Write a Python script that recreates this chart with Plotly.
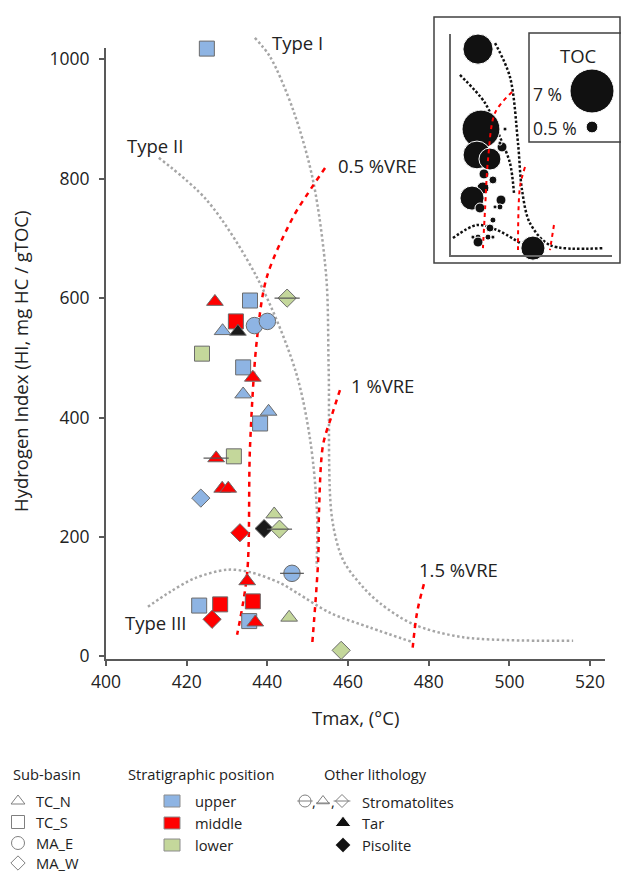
import numpy as np
import plotly.graph_objects as go

W, H = 621, 872
FONT = "Open Sans"
TXT = "#222222"

# ---------------- main data ----------------
tmax = [425.0, 427.0, 435.7, 444.9, 432.2, 428.9, 432.7, 436.8, 440.0, 423.8,
        434.0, 436.4, 434.0, 440.3, 438.2, 427.3, 431.7, 428.8, 430.3, 423.5,
        441.7, 433.2, 439.2, 443.0, 446.1, 435.0, 423.1, 428.3, 436.4, 426.3,
        435.5, 437.0, 445.4, 458.3]
hi = [1018, 594, 596, 600, 561, 545, 544, 554, 561, 507,
      484, 467, 439, 410, 390, 332, 335, 281, 281, 265,
      238, 207, 214, 213, 139, 126, 85, 87, 92, 62,
      59, 57, 65, 10]
sub_basin = ["TC_S", "TC_N", "TC_S", "MA_W", "TC_S", "TC_N", "TC_N", "MA_E", "MA_E", "TC_S",
             "TC_S", "TC_N", "TC_N", "TC_N", "TC_S", "TC_N", "TC_S", "TC_N", "TC_N", "MA_W",
             "TC_N", "MA_W", "MA_W", "MA_W", "MA_E", "TC_N", "TC_S", "TC_S", "TC_S", "MA_W",
             "TC_S", "TC_N", "TC_N", "MA_W"]
position = ["upper", "middle", "upper", "lower", "middle", "upper", "-", "upper", "upper", "lower",
            "upper", "middle", "upper", "upper", "upper", "middle", "lower", "middle", "middle", "upper",
            "lower", "middle", "-", "lower", "upper", "middle", "upper", "middle", "middle", "middle",
            "upper", "middle", "lower", "lower"]
lithology = ["", "", "", "Stromatolites", "", "", "Tar", "", "", "",
             "", "", "", "", "", "Stromatolites", "", "", "", "",
             "", "", "Pisolite", "Stromatolites", "Stromatolites", "", "", "", "", "",
             "", "", "", ""]

# reference curves (Tmax, HI)
type1_t = [436.9, 440.7, 446.4, 451.3, 454.6, 455.2, 456.0, 458.8, 463.7, 467.9, 476.1, 488.5, 515.8]
type1_h = [1036, 1004, 915, 798, 636, 480, 233, 161, 116, 89, 54, 32, 26]
type2_t = [413.1, 425.0, 437.4, 446.9, 450.6, 452.3, 452.2]
type2_h = [835, 764, 635, 480, 363, 242, 150]
type3_t = [410.4, 415.9, 422.1, 430.0, 435.7, 443.1, 447.4, 455.5, 465.5, 475.9]
type3_h = [83, 108, 131, 145, 141, 123, 106, 73, 48, 24]
vre05_t = [454.3, 450.1, 446.4, 439.9, 437.4, 435.7, 435.0, 432.5]
vre05_h = [818, 776, 736, 636, 530, 351, 140, 36]
vre10_t = [458.0, 456.0, 453.8, 452.8, 452.6, 451.1]
vre10_h = [446, 404, 354, 242, 162, 19]
vre15_t = [478.8, 477.1, 475.9]
vre15_h = [121, 73, 6]

# ---------------- inset data (TOC bubbles) ----------------
in_tmax = [420.8, 423.1, 420.0, 430.0, 439.3, 441.6, 437.7, 425.4, 432.3, 424.6,
           416.2, 422.3, 438.5, 437.7, 433.9, 432.3, 430.0, 420.8, 420.8, 428.5,
           416.9, 432.3, 463.1]
in_hi = [955, 584, 464, 445, 501, 584, 519, 376, 348, 311,
         264, 218, 255, 223, 223, 162, 125, 83, 60, 83,
         83, 83, 32]
in_toc = [3.3, 5.2, 2.8, 1.75, 0.36, 0.06, 0.06, 0.36, 0.23, 0.52,
          2.1, 0.36, 0.36, 0.13, 0.06, 0.13, 0.23, 0.13, 0.36, 0.13,
          0.06, 0.06, 2.1]
toc_legend = [7, 0.5]
toc_legend_labels = ["7 %", "0.5 %"]

in1_t = [433.9, 445.4, 451.6, 454.7, 460.8, 476.2, 517.0]
in1_h = [983, 826, 519, 301, 148, 46, 32]
in2_t = [406.9, 426.2, 437.7, 445.4, 448.5]
in2_h = [835, 705, 547, 427, 288]
in3_t = [401.5, 420.0, 435.4, 453.1]
in3_h = [79, 139, 116, 56]
inr1_t = [447.0, 433.9, 428.5, 426.2, 424.6]
inr1_h = [756, 659, 441, 209, 32]
inr2_t = [457.0, 453.1, 451.6]
inr2_h = [408, 315, 23]
inr3_t = [479.3, 476.2]
inr3_h = [139, 23]

x_ticks = [400, 420, 440, 460, 480, 500, 520]
y_ticks = [0, 200, 400, 600, 800, 1000]

# ---------------- styles ----------------
pos_color = {"upper": "#8EB4E3", "middle": "#FF0000", "lower": "#C4D79B"}
lith_color = {"Tar": "#1A1A1A", "Pisolite": "#1A1A1A"}
basin_symbol = {"TC_N": "triangle-up", "TC_S": "square", "MA_E": "circle", "MA_W": "diamond"}
sym_size = {"triangle-up": 14.5, "square": 15, "circle": 16.5, "diamond": 14}
line_size = {"triangle-up": 18, "square": 17, "circle": 17, "diamond": 18}


def toc_diam(v):
    return 16.63 * np.sqrt(np.asarray(v, dtype=float))


def px(x):
    return x / W


def py(y):
    return 1 - y / H


symbols, colors, sizes = [], [], []
for sb, pos, lit in zip(sub_basin, position, lithology):
    s = basin_symbol[sb]
    if lit == "Pisolite":
        s = "diamond"
    symbols.append(s)
    colors.append(lith_color.get(lit, pos_color.get(pos, "#1A1A1A")))
    sizes.append(sym_size[s])

fig = go.Figure()

# placeholder so the visible main axes get drawn
fig.add_trace(go.Scatter(x=[None], y=[None], xaxis="x", yaxis="y", mode="markers",
                         hoverinfo="skip", showlegend=False))

GRAY = "#A6A6A6"
RED = "#FF0000"
MX, MY = "x4", "y4"   # invisible twin of the main axes (same scale, taller domain)


def curve(t, h, color, dash, width, xa=MX, ya=MY):
    fig.add_trace(go.Scatter(x=t, y=h, mode="lines", xaxis=xa, yaxis=ya,
                             line=dict(color=color, dash=dash, width=width, shape="spline",
                                       smoothing=0.9),
                             hoverinfo="skip", showlegend=False))


for t, h in [(type1_t, type1_h), (type2_t, type2_h), (type3_t, type3_h)]:
    curve(t, h, GRAY, "2.5px,2.5px", 2.5)
for t, h in [(vre05_t, vre05_h), (vre10_t, vre10_h), (vre15_t, vre15_h)]:
    curve(t, h, RED, "5px,5px", 2.5)

fig.add_trace(go.Scatter(
    x=tmax, y=hi, mode="markers", cliponaxis=False, showlegend=False, xaxis=MX, yaxis=MY,
    marker=dict(symbol=symbols, color=colors, size=sizes, opacity=1,
                line=dict(color="#6B6B6B", width=1))))

# stromatolite bar overlay
st_x = [t for t, l in zip(tmax, lithology) if l == "Stromatolites"]
st_y = [h for h, l in zip(hi, lithology) if l == "Stromatolites"]
st_s = [line_size[s] for s, l in zip(symbols, lithology) if l == "Stromatolites"]
fig.add_trace(go.Scatter(x=st_x, y=st_y, mode="markers", cliponaxis=False, showlegend=False,
                         xaxis=MX, yaxis=MY,
                         marker=dict(symbol="line-ew", size=st_s, opacity=1,
                                     line=dict(color="#555555", width=1.2))))

# ---------------- inset ----------------
for t, h in [(in1_t, in1_h), (in2_t, in2_h), (in3_t, in3_h)]:
    curve(t, h, "#111111", "2.5px,2px", 2.5, "x2", "y2")
fig.add_trace(go.Scatter(x=in_tmax, y=in_hi, mode="markers", xaxis="x2", yaxis="y2",
                         cliponaxis=False, showlegend=False,
                         marker=dict(size=toc_diam(in_toc), color="#111111", opacity=1,
                                     line=dict(color="white", width=1))))
for t, h in [(inr1_t, inr1_h), (inr2_t, inr2_h), (inr3_t, inr3_h)]:
    curve(t, h, RED, "4px,4px", 2, "x2", "y2")

# TOC legend circles (pixel overlay axis)
fig.add_trace(go.Scatter(x=[592, 592], y=[91, 127], mode="markers", xaxis="x3", yaxis="y3",
                         cliponaxis=False, showlegend=False,
                         marker=dict(size=toc_diam(toc_legend), color="#111111", opacity=1,
                                     line=dict(color="white", width=1))))

# ---------------- bottom legend markers ----------------
LG = "#7F7F7F"
ROWS_SB = [801, 822, 843, 863]
fig.add_trace(go.Scatter(
    x=[18, 18, 18, 18], y=ROWS_SB, mode="markers", xaxis="x3", yaxis="y3",
    cliponaxis=False, showlegend=False,
    marker=dict(symbol=["triangle-up-open", "square-open", "circle-open", "diamond-open"],
                size=[12, 13, 13, 11], color=LG, opacity=1, line=dict(width=1, color=LG))))
fig.add_trace(go.Scatter(
    x=[305, 323, 342], y=[801, 801, 801], mode="markers", xaxis="x3", yaxis="y3",
    cliponaxis=False, showlegend=False,
    marker=dict(symbol=["circle-open", "triangle-up-open", "diamond-open"],
                size=[12, 11, 10], color=LG, opacity=1, line=dict(width=1, color=LG))))
fig.add_trace(go.Scatter(
    x=[305, 323, 342], y=[801, 803, 801], mode="markers", xaxis="x3", yaxis="y3",
    cliponaxis=False, showlegend=False,
    marker=dict(symbol="line-ew", size=[11, 10, 12], opacity=1, line=dict(width=1, color=LG))))
fig.add_trace(go.Scatter(
    x=[343, 343], y=[823, 845], mode="markers", xaxis="x3", yaxis="y3",
    cliponaxis=False, showlegend=False,
    marker=dict(symbol=["triangle-up", "diamond"], size=[14, 12], color="#111111", opacity=1)))

shapes = []
for yy, c in zip([801, 823, 845], ["upper", "middle", "lower"]):
    shapes.append(dict(type="rect", xref="x3", yref="y3", x0=164, x1=180, y0=yy - 6, y1=yy + 6,
                       fillcolor=pos_color[c], line=dict(color="#8C8C8C", width=1)))
# inset frame and TOC box
shapes.append(dict(type="rect", xref="paper", yref="paper", x0=px(434), x1=px(620),
                   y0=py(263), y1=py(17), line=dict(color="#404040", width=1.5)))
shapes.append(dict(type="rect", xref="paper", yref="paper", x0=px(529), x1=px(623),
                   y0=py(142), y1=py(33), line=dict(color="#404040", width=1.5)))

ann = []


def txt(x, y, s, size, anchor="left"):
    ann.append(dict(x=x, y=y, xref="x3", yref="y3", text=s, borderpad=0,
                    showarrow=False, xanchor=anchor, yanchor="middle",
                    font=dict(family=FONT, size=size, color=TXT)))


LF = 14.7
txt(12, 774, "Sub-basin", LF)
txt(127, 774, "Stratigraphic position", LF)
txt(323, 774, "Other lithology", LF)
for yy, s in zip(ROWS_SB, ["TC_N", "TC_S", "MA_E", "MA_W"]):
    txt(35, yy, s, LF)
for yy, s in zip([801, 823, 845], ["upper", "middle", "lower"]):
    txt(194, yy, s, LF)
txt(313.5, 801, ",", LF, "center")
txt(332.5, 801, ",", LF, "center")
txt(361, 802, "Stromatolites", LF)
txt(361, 823, "Tar", LF)
txt(361, 845, "Pisolite", LF)
# TOC box texts
txt(578, 55, "TOC", 18.5, "center")
for yy, s, xx in zip([94, 128], toc_legend_labels, [547, 555]):
    txt(xx, yy, s, 17.5, "center")
# axis titles
txt(355, 717, "Tmax, (°C)", 18.5, "center")
ann.append(dict(x=20, y=362, xref="x3", yref="y3", text="Hydrogen Index (HI, mg HC / gTOC)",
                showarrow=False, textangle=-90, xanchor="center", yanchor="middle",
                font=dict(family=FONT, size=18.5, color=TXT)))
# curve labels (data coords)
for x, y, s in [(440.7, 1029, "Type I"), (404.7, 855, "Type II"), (457.0, 823, "0.5 %VRE"),
                (460.2, 453, "1 %VRE"), (477.1, 146, "1.5 %VRE"), (404.2, 56, "Type III")]:
    ann.append(dict(x=x, y=y, xref=MX, yref=MY, text=s, showarrow=False, xanchor="left",
                    yanchor="middle", font=dict(family=FONT, size=18.5, color=TXT)))

AX = "#595959"
Y0, Y1 = -4.5, 1019.0
PPU = (659 - 48) / (Y1 - Y0)          # pixels per HI unit
Y1_EXT = Y1 + (48 - 25) / PPU          # same scale, extended upward to y=25 px

fig.update_layout(
    width=W, height=H, margin=dict(l=0, r=0, t=0, b=0, pad=0, autoexpand=False),
    paper_bgcolor="white", plot_bgcolor="rgba(0,0,0,0)",
    font=dict(family=FONT, color=TXT),
    showlegend=False,
    xaxis=dict(domain=[px(106), px(605)], range=[400, 523.7], anchor="y",
               tickvals=x_ticks, ticks="outside", ticklen=5, tickwidth=1.5, tickcolor=AX,
               showline=True, linecolor=AX, linewidth=2, showgrid=False, zeroline=False,
               tickfont=dict(size=17.5, color=TXT), ticklabelstandoff=1, automargin=False),
    yaxis=dict(domain=[py(659), py(48)], range=[Y0, Y1], anchor="x",
               tickvals=y_ticks, ticks="outside", ticklen=5, tickwidth=1.5, tickcolor=AX,
               showline=True, linecolor=AX, linewidth=2, showgrid=False, zeroline=False,
               tickfont=dict(size=17.5, color=TXT), ticklabelstandoff=6, automargin=False),
    xaxis4=dict(domain=[px(106), px(605)], range=[400, 523.7], anchor="y4", visible=False),
    yaxis4=dict(domain=[py(659), py(25)], range=[Y0, Y1_EXT], anchor="x4", visible=False),
    xaxis2=dict(domain=[px(451), px(612)], range=[400, 524], anchor="y2",
                showline=True, linecolor="#666666", linewidth=2, showticklabels=False,
                ticks="", showgrid=False, zeroline=False),
    yaxis2=dict(domain=[py(255), py(34)], range=[0, 1025], anchor="x2",
                showline=True, linecolor="#666666", linewidth=2, showticklabels=False,
                ticks="", showgrid=False, zeroline=False),
    xaxis3=dict(domain=[0, 1], range=[0, W], anchor="y3", visible=False),
    yaxis3=dict(domain=[0, 1], range=[H, 0], anchor="x3", visible=False),
    shapes=shapes, annotations=ann,
)

fig.write_html("out.html")
